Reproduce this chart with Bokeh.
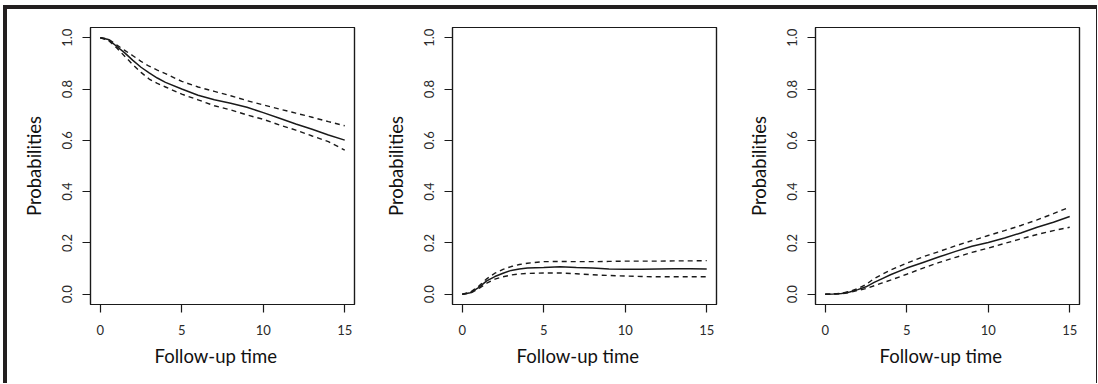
from bokeh.plotting import figure
from bokeh.layouts import row
from bokeh.models import Range1d, FixedTicker, LinearAxis, Title
from bokeh.embed import file_html
from bokeh.resources import INLINE

# ---- data ----
time = [0, 0.5, 1, 1.5, 2, 2.5, 3, 3.5, 4, 5, 6, 7, 8, 9, 10, 11, 12, 13, 14, 15]

p1_est = [1.0, 0.993, 0.967, 0.941, 0.912, 0.885, 0.863, 0.843, 0.826, 0.800,
          0.776, 0.758, 0.745, 0.729, 0.708, 0.686, 0.664, 0.643, 0.621, 0.601]
p1_upper = [1.0, 0.995, 0.972, 0.951, 0.930, 0.908, 0.889, 0.874, 0.860, 0.830,
            0.808, 0.791, 0.774, 0.755, 0.738, 0.722, 0.706, 0.690, 0.673, 0.657]
p1_lower = [1.0, 0.990, 0.961, 0.928, 0.895, 0.865, 0.839, 0.822, 0.808, 0.780,
            0.758, 0.735, 0.719, 0.699, 0.682, 0.660, 0.640, 0.617, 0.595, 0.562]

p2_est = [0.0, 0.006, 0.026, 0.052, 0.069, 0.082, 0.093, 0.098, 0.102, 0.104,
          0.107, 0.104, 0.102, 0.098, 0.097, 0.097, 0.098, 0.099, 0.099, 0.098]
p2_upper = [0.0, 0.008, 0.031, 0.060, 0.082, 0.097, 0.108, 0.116, 0.121, 0.127,
            0.128, 0.127, 0.127, 0.128, 0.129, 0.129, 0.129, 0.130, 0.130, 0.131]
p2_lower = [0.0, 0.004, 0.021, 0.043, 0.059, 0.068, 0.075, 0.079, 0.081, 0.083,
            0.083, 0.080, 0.076, 0.073, 0.071, 0.069, 0.068, 0.068, 0.068, 0.068]

p3_est = [0.0, 0.001, 0.003, 0.009, 0.018, 0.029, 0.046, 0.061, 0.076, 0.102,
          0.124, 0.146, 0.167, 0.187, 0.202, 0.219, 0.239, 0.261, 0.281, 0.303]
p3_upper = [0.0, 0.001, 0.004, 0.011, 0.022, 0.038, 0.061, 0.078, 0.094, 0.121,
            0.146, 0.167, 0.189, 0.209, 0.229, 0.248, 0.268, 0.290, 0.314, 0.340]
p3_lower = [0.0, 0.001, 0.002, 0.007, 0.015, 0.022, 0.033, 0.044, 0.055, 0.078,
            0.102, 0.124, 0.144, 0.163, 0.180, 0.198, 0.216, 0.233, 0.248, 0.261]

x_ticks = [0, 5, 10, 15]
y_ticks = [0.0, 0.2, 0.4, 0.6, 0.8, 1.0]
y_tick_labels = ["0.0", "0.2", "0.4", "0.6", "0.8", "1.0"]
x_title = "Follow-up time"
y_title = "Probabilities"

INK = "#1a1a1a"
FONT = "Lato"


def box_axis(p, side):
    ax = LinearAxis(ticker=FixedTicker(ticks=[]), axis_line_color=INK,
                    axis_line_width=1.2, major_tick_line_color=None,
                    minor_tick_line_color=None, major_label_text_font_size="0px")
    p.add_layout(ax, side)


def panel(est, upper, lower, width, left, right):
    p = figure(width=width, height=374, output_backend="svg", toolbar_location=None,
               x_range=Range1d(-0.6, 15.6), y_range=Range1d(-0.04, 1.04),
               min_border_left=left, min_border_right=right,
               min_border_top=18, min_border_bottom=79)
    p.background_fill_color = "white"
    p.border_fill_color = "white"
    p.outline_line_color = INK
    p.outline_line_width = 1.2
    p.xgrid.visible = False
    p.ygrid.visible = False

    p.line(time, est, line_color=INK, line_width=1.5)
    p.line(time, upper, line_color=INK, line_width=1.4, line_dash="5 4")
    p.line(time, lower, line_color=INK, line_width=1.4, line_dash="5 4")

    for ax in (p.xaxis[0], p.yaxis[0]):
        ax.axis_line_color = INK
        ax.axis_line_width = 1.2
        ax.major_tick_line_color = INK
        ax.major_tick_line_width = 1.2
        ax.major_tick_in = 0
        ax.major_tick_out = 8
        ax.minor_tick_line_color = None
        ax.major_label_text_font = FONT
        ax.major_label_text_font_size = "13px"
        ax.major_label_text_color = "#2a2a2a"
        ax.axis_label_text_font = FONT
        ax.axis_label_text_font_size = "18.5px"
        ax.axis_label_text_font_style = "normal"
        ax.axis_label_text_color = "#111111"

    p.xaxis.ticker = FixedTicker(ticks=x_ticks)
    p.yaxis.ticker = FixedTicker(ticks=y_ticks)
    p.yaxis.major_label_overrides = {t: s for t, s in zip(y_ticks, y_tick_labels)}
    p.yaxis.major_label_orientation = "vertical"
    p.xaxis.major_label_standoff = 12
    p.yaxis.major_label_standoff = 10
    p.yaxis.axis_label = y_title
    p.yaxis.axis_label_standoff = 15

    # x-axis title, set slightly left of centre as in the reference
    p.add_layout(Title(text=x_title, align="left", offset=64, standoff=14,
                       vertical_align="top",
                       text_font=FONT, text_font_size="18.5px",
                       text_font_style="normal", text_color="#111111"), "below")
    box_axis(p, "above")
    box_axis(p, "right")
    return p


f1 = panel(p1_est, p1_upper, p1_lower, 362, 83, 15)
f2 = panel(p2_est, p2_upper, p2_lower, 363, 83, 16)
f3 = panel(p3_est, p3_upper, p3_lower, 364, 83, 17)

layout = row(f1, f2, f3, spacing=0, margin=(5, 0, 0, 3),
             styles={"border-top": "4px solid #231f20",
                     "border-left": "4px solid #231f20",
                     "border-right": "1px solid #231f20",
                     "background-color": "white"})

open("out.html", "w").write(file_html(layout, INLINE))
